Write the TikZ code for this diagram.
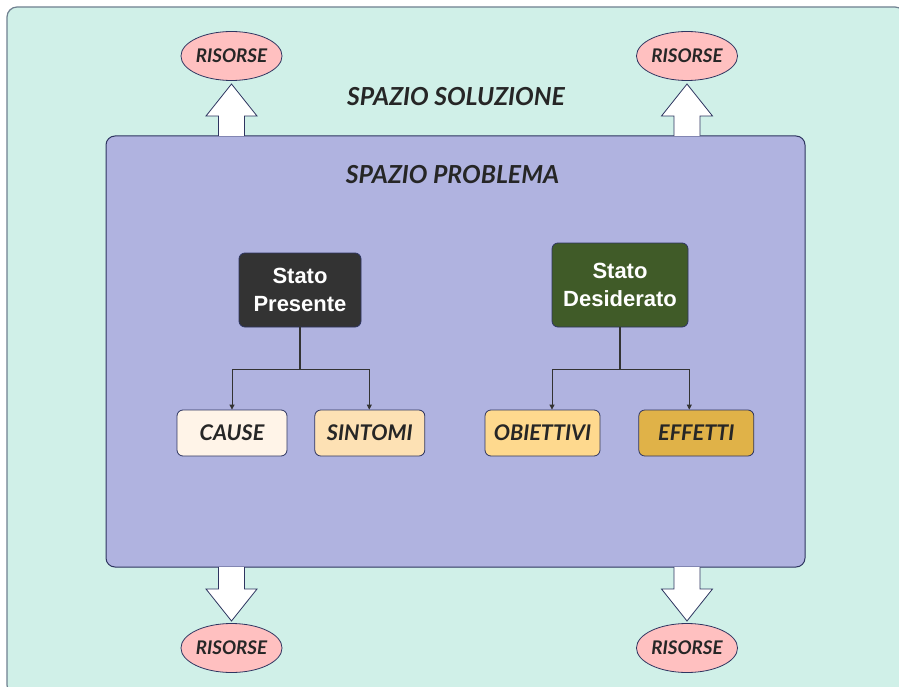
\documentclass[tikz,border=0pt]{standalone}
\usepackage{fontspec}
\newfontfamily\labelfont{Lato}
\newfontfamily\statefont{Liberation Sans}
\usetikzlibrary{shapes.geometric, arrows.meta, positioning, calc}

\definecolor{solbg}{HTML}{D0F0E8}
\definecolor{solborder}{HTML}{6F8090}
\definecolor{probbg}{HTML}{B0B3E0}
\definecolor{edge}{HTML}{2E3560}
\definecolor{rescol}{HTML}{FFC0C0}
\definecolor{presentcol}{HTML}{333333}
\definecolor{desiredcol}{HTML}{405B28}
\definecolor{causecol}{HTML}{FFF4E8}
\definecolor{sintomicol}{HTML}{FDE1B4}
\definecolor{obiettivicol}{HTML}{FED98E}
\definecolor{effetticol}{HTML}{E0B248}

\begin{document}
\begin{tikzpicture}[
    x=1pt, y=-1pt,
    space/.style={font=\labelfont\bfseries\itshape\fontsize{24.8}{28}\selectfont, text=black!85},
    state/.style={rectangle, draw=edge, rounded corners=6pt, text=white, align=center,
        font=\statefont\bfseries\fontsize{22}{28.5}\selectfont, line width=0.8pt},
    subbox/.style={rectangle, draw=edge, rounded corners=6pt, minimum height=46pt,
        font=\labelfont\bfseries\itshape\fontsize{21.6}{25}\selectfont, text=black!85, line width=0.8pt},
    resource/.style={ellipse, draw=edge, fill=rescol, minimum width=98pt, minimum height=49pt,
        inner sep=0pt, font=\labelfont\bfseries\itshape\fontsize{18.8}{22}\selectfont, text=black!85, line width=0.8pt},
    bigarrow/.style={draw=edge, fill=white, line width=0.8pt, line join=miter},
    trunk/.style={draw=black!80, line width=1.5pt},
    branch/.style={draw=black!80, line width=0.8pt, -{Triangle[length=5pt, width=5pt]}}
]
    \useasboundingbox (0,0) rectangle (899,687);

    % Spaces
    \draw[fill=solbg, draw=solborder, line width=1.2pt, rounded corners=10pt] (7,7) rectangle (905,695);
    \node (solution) [space] at (456,97) {SPAZIO SOLUZIONE};
    \draw[fill=probbg, draw=edge, line width=1pt, rounded corners=9pt] (106,136) rectangle (805,567);
    \node (problem) [space] at (452.5,175) {SPAZIO PROBLEMA};

    % Resources and arrows
    \foreach \x in {231.5, 687} {
        \draw[bigarrow] (\x-13,136) -- (\x-13,116) -- (\x-25.5,116) -- (\x,84)
            -- (\x+25.5,116) -- (\x+13,116) -- (\x+13,136);
        \draw[bigarrow] (\x-13,567) -- (\x-13,589) -- (\x-25.5,589) -- (\x,621)
            -- (\x+25.5,589) -- (\x+13,589) -- (\x+13,567);
    }
    \node (restl) [resource] at (231.5,56) {RISORSE};
    \node (restr) [resource] at (687,56) {RISORSE};
    \node (resbl) [resource] at (231.5,648) {RISORSE};
    \node (resbr) [resource] at (687,648) {RISORSE};

    % States
    \node (present) [state, fill=presentcol, minimum width=122pt, minimum height=74pt] at (300,290) {Stato\\Presente};
    \node (desired) [state, fill=desiredcol, minimum width=136pt, minimum height=84pt] at (620,285) {Stato\\Desiderato};

    \node (cause) [subbox, fill=causecol, minimum width=110pt] at (232,433) {CAUSE};
    \node (sintomi) [subbox, fill=sintomicol, minimum width=110pt, right=27pt of cause] {SINTOMI};
    \node (obiettivi) [subbox, fill=obiettivicol, minimum width=115pt] at (542.5,433) {OBIETTIVI};
    \node (effetti) [subbox, fill=effetticol, minimum width=115pt, right=38pt of obiettivi] {EFFETTI};

    % Connectors
    \draw[trunk] (present.south) -- ++(0,41.5) coordinate (presentsplit);
    \draw[branch] (presentsplit) -| (cause.north);
    \draw[branch] (presentsplit) -| ([xshift=-0.5pt]sintomi.north);

    \draw[trunk] (desired.south) -- ++(0,42) coordinate (desiredsplit);
    \draw[branch] (desiredsplit) -| ([xshift=9.5pt]obiettivi.north);
    \draw[branch] (desiredsplit) -| ([xshift=-7pt]effetti.north);

\end{tikzpicture}
\end{document}
